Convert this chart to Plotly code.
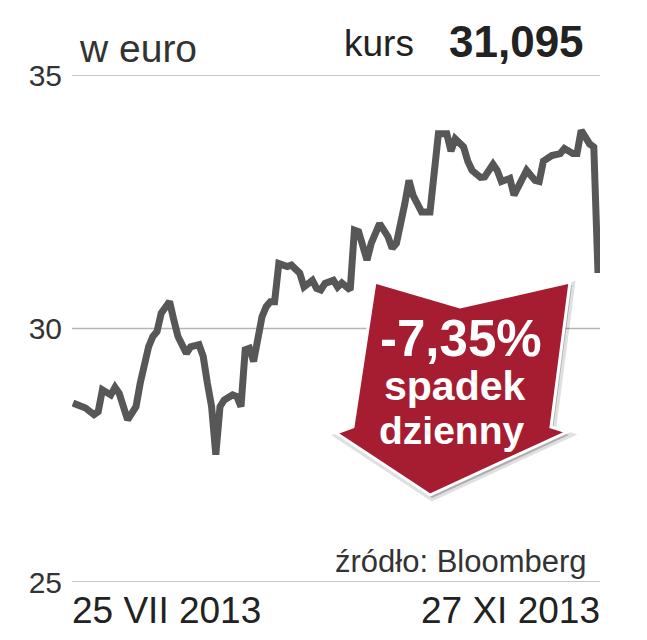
import pandas as pd
import plotly.graph_objects as go

# ---- data ----
dates = [
    "2013-07-25", "2013-07-28", "2013-07-30", "2013-07-31", "2013-08-01", "2013-08-03",
    "2013-08-04", "2013-08-05", "2013-08-07", "2013-08-09", "2013-08-10", "2013-08-12",
    "2013-08-13", "2013-08-14", "2013-08-15", "2013-08-17", "2013-08-18", "2013-08-19",
    "2013-08-21", "2013-08-22", "2013-08-24", "2013-08-25", "2013-08-26", "2013-08-27",
    "2013-08-28", "2013-08-29", "2013-08-30", "2013-09-01", "2013-09-02", "2013-09-03",
    "2013-09-04", "2013-09-05", "2013-09-06", "2013-09-07", "2013-09-08", "2013-09-09",
    "2013-09-10", "2013-09-11", "2013-09-12", "2013-09-14", "2013-09-15", "2013-09-17",
    "2013-09-18", "2013-09-20", "2013-09-21", "2013-09-22", "2013-09-23", "2013-09-25",
    "2013-09-26", "2013-09-27", "2013-09-29", "2013-09-30", "2013-10-01", "2013-10-03",
    "2013-10-04", "2013-10-06", "2013-10-08", "2013-10-09", "2013-10-10", "2013-10-12",
    "2013-10-13", "2013-10-14", "2013-10-16", "2013-10-18", "2013-10-19", "2013-10-20",
    "2013-10-22", "2013-10-23", "2013-10-24", "2013-10-26", "2013-10-27", "2013-10-28",
    "2013-10-30", "2013-10-31", "2013-11-02", "2013-11-03", "2013-11-04", "2013-11-06",
    "2013-11-07", "2013-11-08", "2013-11-10", "2013-11-12", "2013-11-13", "2013-11-14",
    "2013-11-16", "2013-11-18", "2013-11-19", "2013-11-21", "2013-11-22", "2013-11-23",
    "2013-11-24", "2013-11-25", "2013-11-26", "2013-11-27",
]
prices = [
    28.53, 28.43, 28.30, 28.36, 28.79, 28.69,
    28.84, 28.72, 28.20, 28.46, 28.92, 29.64,
    29.84, 29.94, 30.30, 30.53, 30.17, 29.84,
    29.51, 29.64, 29.68, 29.45, 28.92, 28.46,
    27.51, 28.46, 28.59, 28.69, 28.66, 28.46,
    29.58, 29.61, 29.35, 29.77, 30.23, 30.43,
    30.53, 30.53, 31.28, 31.22, 31.25, 31.09,
    30.82, 30.95, 30.79, 30.76, 30.89, 30.95,
    30.82, 30.90, 30.76, 31.94, 31.91, 31.35,
    31.68, 32.07, 31.81, 31.58, 31.68, 32.46,
    32.92, 32.62, 32.30, 32.30, 33.19, 33.84,
    33.84, 33.50, 33.74, 33.58, 33.30, 33.12,
    32.98, 32.99, 33.24, 33.12, 32.90, 32.96,
    32.63, 32.79, 33.12, 32.92, 32.90, 33.30,
    33.41, 33.45, 33.55, 33.45, 33.45, 33.91,
    33.74, 33.64, 33.58, 31.095,
]
y_ticks = [25, 30, 35]
y_tick_labels = ["25", "30", "35"]
x_labels = ["25 VII 2013", "27 XI 2013"]
unit_label = "w euro"
price_label = "kurs"
price_value = "31,095"
change_text = ["-7,35%", "spadek", "dzienny"]
source_text = "źródło: Bloomberg"

# ---- layout geometry (pixels of the 647x640 canvas) ----
W, H = 647, 640
L, R, T, B = 72, 47, 75, 58
PW, PH = W - L - R, H - T - B


def px(x):
    return (x - L) / PW


def py(y):
    return (H - B - y) / PH


x_dates = pd.to_datetime(dates)
d0, d1 = x_dates[0], x_dates[-1]
day_px = (598 - 73) / (d1 - d0).days
x_range = [d0 - pd.Timedelta(days=(73 - L) / day_px),
           d0 + pd.Timedelta(days=(L + PW - 73) / day_px)]

FONT = "Liberation Sans, Arial, sans-serif"
TXT = "#222222"

fig = go.Figure()
fig.add_trace(go.Scatter(
    x=x_dates, y=prices, mode="lines",
    line=dict(color="#575757", width=7),
    hoverinfo="skip", showlegend=False,
))

# arrow polygon
arrow_pts = [(375, 282), (460, 307), (570, 282), (551, 427), (567, 432),
             (430, 495), (336, 433), (353, 427)]


def path_of(pts, dx=0, dy=0):
    s = "M " + " L ".join(f"{px(x + dx):.5f},{py(y + dy):.5f}" for x, y in pts)
    return s + " Z"


shapes = [
    dict(type="line", xref="paper", yref="y", x0=0, x1=1, y0=v, y1=v,
         line=dict(color="#b5b5b5", width=1.5), layer="below")
    for v in y_ticks
]
shapes += [
    dict(type="path", xref="paper", yref="paper", path=path_of(arrow_pts, 2, 3),
         fillcolor="rgba(0,0,0,0.22)", line=dict(color="rgba(0,0,0,0.12)", width=6),
         layer="above"),
    dict(type="path", xref="paper", yref="paper", path=path_of(arrow_pts),
         fillcolor="#a61d31", line=dict(color="#ffffff", width=3), layer="above"),
]

annotations = [
    dict(text=unit_label, x=px(77), y=py(49), xref="paper", yref="paper",
         xanchor="left", yanchor="middle", showarrow=False,
         font=dict(family=FONT, size=39, color="#333333")),
    dict(text=price_label, x=px(416), y=py(44), xref="paper", yref="paper",
         xanchor="right", yanchor="middle", showarrow=False,
         font=dict(family=FONT, size=37, color=TXT)),
    dict(text=f"<b>{price_value}</b>", x=px(586), y=py(42), xref="paper", yref="paper",
         xanchor="right", yanchor="middle", showarrow=False,
         font=dict(family=FONT, size=44, color=TXT)),
    dict(text=x_labels[0], x=x_dates[0], y=py(610), xref="x", yref="paper",
         xanchor="left", yanchor="middle", showarrow=False, xshift=-3,
         font=dict(family=FONT, size=37, color=TXT)),
    dict(text=x_labels[1], x=x_dates[-1], y=py(610), xref="x", yref="paper",
         xanchor="right", yanchor="middle", showarrow=False, xshift=4,
         font=dict(family=FONT, size=37, color=TXT)),
    dict(text=source_text, x=px(589), y=py(561), xref="paper", yref="paper",
         xanchor="right", yanchor="middle", showarrow=False,
         font=dict(family=FONT, size=31, color="#333333")),
    dict(text=f"<b>{change_text[0]}</b>", x=px(461), y=py(338), xref="paper", yref="paper",
         xanchor="center", yanchor="middle", showarrow=False,
         font=dict(family=FONT, size=51, color="#ffffff")),
    dict(text=f"<b>{change_text[1]}</b>", x=px(454), y=py(386), xref="paper", yref="paper",
         xanchor="center", yanchor="middle", showarrow=False,
         font=dict(family=FONT, size=41, color="#ffffff")),
    dict(text=f"<b>{change_text[2]}</b>", x=px(451), y=py(430), xref="paper", yref="paper",
         xanchor="center", yanchor="middle", showarrow=False,
         font=dict(family=FONT, size=39, color="#ffffff")),
]

fig.update_layout(
    width=W, height=H,
    margin=dict(l=L, r=R, t=T, b=B, pad=0),
    paper_bgcolor="#ffffff", plot_bgcolor="#ffffff",
    showlegend=False,
    shapes=shapes,
    annotations=annotations,
    xaxis=dict(range=x_range, showgrid=False, zeroline=False, showline=False,
               showticklabels=False, ticks=""),
    yaxis=dict(range=[25, 35], tickvals=y_ticks, ticktext=y_tick_labels,
               showgrid=False, zeroline=False, showline=False, ticks="",
               ticklabelstandoff=9,
               tickfont=dict(family=FONT, size=30, color="#333333")),
)

fig.write_html(
    "out.html",
    config={"displayModeBar": False, "staticPlot": True},
    post_script="document.body.style.margin='0';document.body.style.overflow='hidden';",
)
